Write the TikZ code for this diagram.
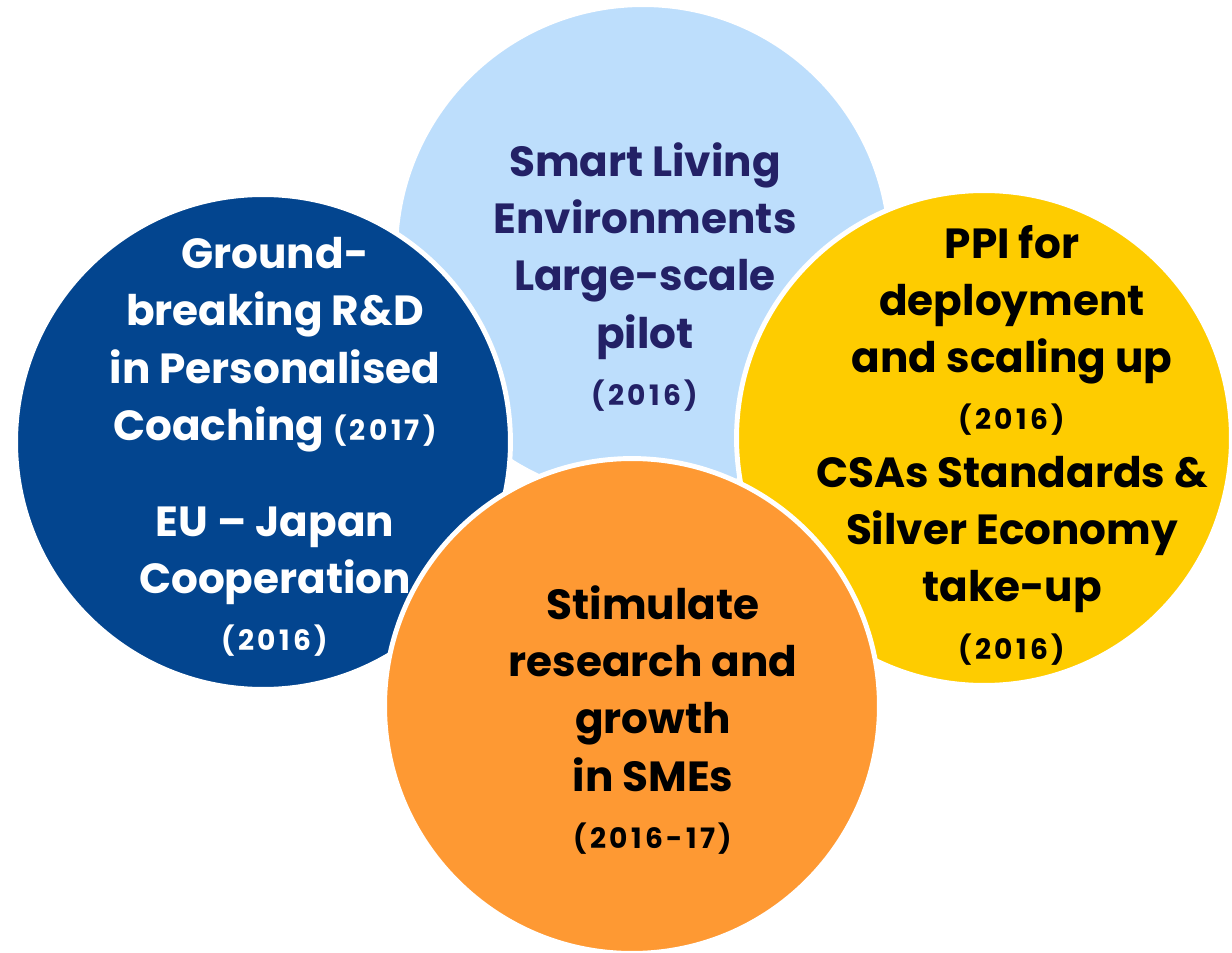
\documentclass[tikz,border=0pt]{standalone}
\usepackage{fontspec}
\setmainfont{Poppins}
\newfontfamily\yearfont{Poppins}[LetterSpace=12]
\usepackage{xcolor}
\definecolor{PilotBlue}{HTML}{BDDEFC}
\definecolor{PilotText}{HTML}{232166}
\definecolor{CoachBlue}{HTML}{03458F}
\definecolor{PPIYellow}{HTML}{FECC00}
\definecolor{SMEOrange}{HTML}{FE9933}
\usepackage{tikz}
\usetikzlibrary{positioning}
\tikzset{
  % Circle styles
  bubble/.style={circle, draw=white, line width=2.8pt, minimum size=9.9cm, inner sep=0pt},
  % Text styles
  bubbletext/.style={align=center, font=\fontsize{24}{32.6}\selectfont\bfseries}
}
\newcommand{\yr}[1]{{\fontsize{16}{32.6}\selectfont\yearfont\bfseries #1}}

\begin{document}
\begin{tikzpicture}[x=0.02cm, y=-0.02cm]
  \useasboundingbox (0,0) rectangle (1232,953);

  % Top circle - large-scale pilot
  \node[bubble, fill=PilotBlue] (pilot) at (643,252) {};
  \node[bubbletext, text=PilotText] (pilottext) at (645,277)
    {Smart Living\\ Environments\\ Large-scale\\ pilot\\ \yr{(2016)}};

  % Left circle - coaching
  \node[bubble, fill=CoachBlue] (coach) at (263,442) {};
  \node[bubbletext, text=white] (coachtext) at (275,447)
    {Ground-\\ breaking R\&D\\ in Personalised\\ Coaching \yr{(2017)}\\[22pt]
     EU -- Japan\\ Cooperation\\ \yr{(2016)}};

  % Right circle - PPI
  \node[bubble, fill=PPIYellow] (ppi) at (984,438) {};
  \node[bubbletext, text=black] (ppitext) at (1012,445)
    {PPI for\\ deployment\\ and scaling up\\ \yr{(2016)}\\ CSAs Standards \&\\
     Silver Economy\\ take-up\\ \yr{(2016)}};

  % Bottom circle - SMEs
  \node[bubble, fill=SMEOrange] (sme) at (632,706) {};
  \node[bubbletext, text=black] (smetext) at (653,720)
    {Stimulate\\ research and\\ growth\\ in SMEs\\ \yr{(2016-17)}};
\end{tikzpicture}
\end{document}
